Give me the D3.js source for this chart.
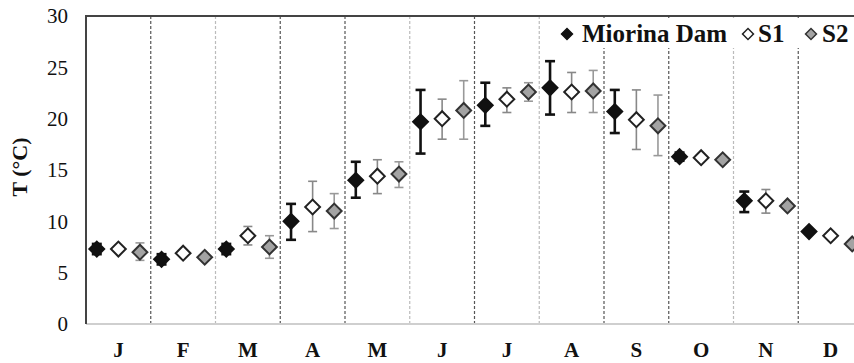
<!DOCTYPE html>
<html lang="en">
<head>
  <meta charset="UTF-8">
  <title>Monthly temperature</title>
  <script src="https://cdnjs.cloudflare.com/ajax/libs/d3/7.8.5/d3.min.js"></script>
  <style>
    body { margin: 0; background: #fff; }
    .sep { stroke-dasharray: 3,2; stroke-width: 1.2; }
  </style>
</head>
<body>
  <div id="graph"></div>
  <script>
    // data
    var months = ["J", "F", "M", "A", "M", "J", "J", "A", "S", "O", "N", "D"];
    var yTicks = [0, 5, 10, 15, 20, 25, 30];
    var seriesNames = ["Miorina Dam", "S1", "S2"];

    var damMean = [7.3, 6.3, 7.3, 10.0, 14.0, 19.7, 21.3, 23.0, 20.7, 16.3, 12.0, 9.0];
    var damLow  = [6.8, 5.8, 6.8, 8.2, 12.3, 16.6, 19.3, 20.4, 18.6, 15.9, 10.9, 8.8];
    var damHigh = [7.8, 6.8, 7.8, 11.7, 15.8, 22.8, 23.5, 25.6, 22.8, 16.7, 12.9, 9.2];

    var s1Mean = [7.3, 6.9, 8.6, 11.4, 14.4, 20.0, 21.9, 22.6, 19.9, 16.2, 12.0, 8.6];
    var s1Low  = [7.1, 6.7, 7.7, 9.0, 12.7, 18.0, 20.6, 20.6, 17.0, 16.0, 10.8, 8.4];
    var s1High = [7.5, 7.1, 9.5, 13.9, 16.0, 21.9, 23.0, 24.5, 22.8, 16.4, 13.1, 8.8];

    var s2Mean = [7.0, 6.5, 7.5, 11.0, 14.6, 20.8, 22.6, 22.7, 19.3, 16.0, 11.5, 7.8];
    var s2Low  = [6.2, 6.3, 6.4, 9.3, 13.3, 18.0, 21.7, 20.6, 16.4, 15.8, 11.3, 7.6];
    var s2High = [7.9, 6.7, 8.6, 12.7, 15.8, 23.7, 23.5, 24.7, 22.3, 16.2, 11.7, 8.0];

    var W = 854, H = 363;
    var margin = {top: 16, left: 86, bottom: 39};
    var monthW = 64.75;
    var plotBottom = H - margin.bottom;

    var svg = d3.select("#graph").append("svg")
        .attr("width", W)
        .attr("height", H);

    var x = d3.scaleBand()
        .domain(d3.range(months.length))
        .range([margin.left, margin.left + monthW * months.length]);
    var xs = d3.scalePoint()
        .domain(seriesNames)
        .range([0, x.bandwidth()])
        .padding(0.5);
    var y = d3.scaleLinear().domain([0, 30]).range([plotBottom, margin.top]);

    // month separators
    var light = [2, 5, 7, 10];
    svg.selectAll(".sep")
      .data(d3.range(1, months.length))
      .enter().append("line")
        .attr("class", "sep")
        .attr("x1", function(i) { return x(i); })
        .attr("x2", function(i) { return x(i); })
        .attr("y1", margin.top)
        .attr("y2", plotBottom)
        .attr("stroke", function(i) { return light.indexOf(i) >= 0 ? "#bbb" : "#555"; });

    // frame: bottom axis, left axis, top border
    svg.append("line")
        .attr("x1", margin.left).attr("x2", W)
        .attr("y1", plotBottom).attr("y2", plotBottom)
        .attr("stroke", "#cfcfcf").attr("stroke-width", 2);
    svg.append("line")
        .attr("x1", margin.left).attr("x2", margin.left)
        .attr("y1", margin.top).attr("y2", plotBottom)
        .attr("stroke", "#444").attr("stroke-width", 2);
    svg.append("line")
        .attr("x1", margin.left - 1).attr("x2", W)
        .attr("y1", margin.top).attr("y2", margin.top)
        .attr("stroke", "#444").attr("stroke-width", 2);

    // y axis labels
    var yAxis = svg.append("g")
        .attr("transform", "translate(" + (margin.left - 18) + ",0)")
        .call(d3.axisLeft(y).tickValues(yTicks).tickSize(0).tickPadding(0));
    yAxis.select(".domain").remove();
    yAxis.selectAll("text")
        .attr("font-size", 21)
        .attr("fill", "#111");

    svg.append("text")
        .attr("transform", "translate(27,167) rotate(-90)")
        .attr("text-anchor", "middle")
        .attr("font-size", 22)
        .attr("font-weight", "bold")
        .attr("fill", "#111")
        .text("T (°C)");

    // x axis labels
    var xAxis = svg.append("g")
        .attr("transform", "translate(0," + plotBottom + ")")
        .call(d3.axisBottom(x).tickFormat(function(i) { return months[i]; }).tickSize(0).tickPadding(18));
    xAxis.select(".domain").remove();
    xAxis.selectAll("text")
        .attr("font-size", 21)
        .attr("font-weight", "bold")
        .attr("fill", "#111");

    var series = [
      {name: "Miorina Dam", mean: damMean, low: damLow, high: damHigh,
       fill: "#111", stroke: "#111", bar: "#111", barW: 2.6, cap: 10},
      {name: "S1", mean: s1Mean, low: s1Low, high: s1High,
       fill: "#fff", stroke: "#222", bar: "#888", barW: 1.6, cap: 9},
      {name: "S2", mean: s2Mean, low: s2Low, high: s2High,
       fill: "#a3a3a3", stroke: "#333", bar: "#999", barW: 1.6, cap: 9}
    ];

    var diamond = d3.symbol().type(d3.symbolSquare).size(110);

    series.forEach(function(s) {
      var g = svg.append("g");
      var cx = function(i) { return x(i) + xs(s.name); };
      var idx = d3.range(months.length);

      g.selectAll(".err").data(idx).enter().append("line")
          .attr("x1", cx).attr("x2", cx)
          .attr("y1", function(i) { return y(s.low[i]); })
          .attr("y2", function(i) { return y(s.high[i]); })
          .attr("stroke", s.bar).attr("stroke-width", s.barW);
      [s.low, s.high].forEach(function(arr) {
        g.selectAll(null).data(idx).enter().append("line")
            .attr("x1", function(i) { return cx(i) - s.cap / 2; })
            .attr("x2", function(i) { return cx(i) + s.cap / 2; })
            .attr("y1", function(i) { return y(arr[i]); })
            .attr("y2", function(i) { return y(arr[i]); })
            .attr("stroke", s.bar).attr("stroke-width", s.barW);
      });

      g.selectAll(".pt").data(idx).enter().append("path")
          .attr("d", diamond)
          .attr("transform", function(i) { return "translate(" + cx(i) + "," + y(s.mean[i]) + ") rotate(45)"; })
          .attr("fill", s.fill)
          .attr("stroke", s.stroke)
          .attr("stroke-width", 2);
    });

    // legend
    var legend = svg.append("g");
    legend.append("rect")
        .attr("x", 556).attr("y", 18)
        .attr("width", W - 556).attr("height", 30)
        .attr("fill", "#fff");
    var legendItems = [
      {name: seriesNames[0], mx: 567, tx: 582},
      {name: seriesNames[1], mx: 748, tx: 758},
      {name: seriesNames[2], mx: 811, tx: 822}
    ];
    var small = d3.symbol().type(d3.symbolSquare).size(60);
    legendItems.forEach(function(it, k) {
      legend.append("path")
          .attr("d", small)
          .attr("transform", "translate(" + it.mx + ",34) rotate(45)")
          .attr("fill", series[k].fill)
          .attr("stroke", series[k].stroke)
          .attr("stroke-width", 1.5);
      legend.append("text")
          .attr("x", it.tx).attr("y", 42)
          .attr("font-size", 25)
          .attr("font-weight", "bold")
          .attr("fill", "#111")
          .text(it.name);
    });

    // serif face for every label
    svg.selectAll("text").style("font-family", "'Liberation Serif', serif");
  </script>
</body>
</html>
